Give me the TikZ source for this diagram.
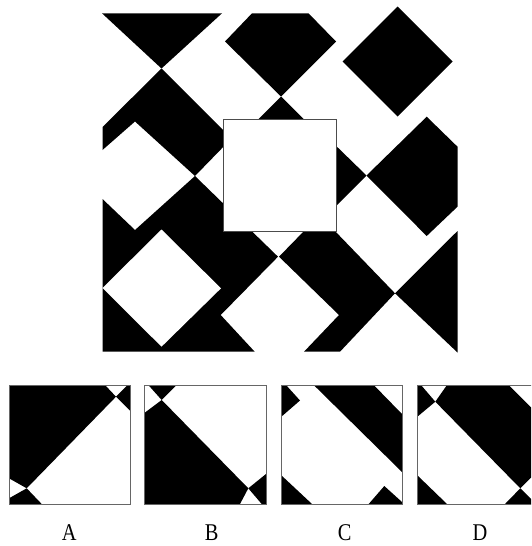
\documentclass[tikz,border=0pt]{standalone}
\usepackage{fontspec}
\newfontfamily\optfont[FakeStretch=0.85]{Liberation Serif}
\definecolor{framegray}{HTML}{666666}
\begin{document}
\begin{tikzpicture}[x=1pt,y=-1pt,piece/.style={fill=black},frame/.style={draw=framegray,line width=1pt},
  optlabel/.style={font=\optfont\fontsize{24}{24}\selectfont,anchor=base,inner sep=0pt}]
\useasboundingbox (0,0) rectangle (531,546);
\clip (0,0) rectangle (531,546);
% main grid
\fill[piece] (102,13.3) -- (222,13.3) -- (161.5,68.5) -- cycle;
\fill[piece] (252,13.3) -- (308.5,13.3) -- (336,41.5) -- (281,96.5) -- (225,41.5) -- cycle;
\fill[piece] (397.5,6.5) -- (452.5,61.5) -- (397.5,116.5) -- (342.5,61.5) -- cycle;
\fill[piece] (281,96.5) -- (256.5,121) -- (305.5,121) -- cycle;
\fill[piece] (161.5,68.5) -- (230,137) -- (230,140) -- (195,176) -- (135,121.5) -- (102.5,150) -- (102.5,127) -- cycle;
\fill[piece] (329,139) -- (366.5,175.5) -- (329,213) -- cycle;
\fill[piece] (366.5,175.5) -- (426.7,116.7) -- (457.5,146.7) -- (457.5,206.7) -- (426.7,236) -- cycle;
\fill[piece] (195,176) -- (278,256.7) -- (220.7,315) -- (254.7,351.7) -- (102.5,351.7) -- (102.5,199) -- (135,230) -- cycle;
\fill[white] (161.5,229.5) -- (221,288.3) -- (161.5,346.7) -- (102.5,288) -- cycle;
\fill[piece] (279,256.7) -- (306,229) -- (333,229) -- (395,293.3) -- (340,351.7) -- (304,351.7) -- (339,315) -- cycle;
\fill[piece] (395,293.3) -- (457.5,231) -- (457.5,352.5) -- cycle;
\draw[draw=black!70,line width=0.8pt,fill=white] (223,119) rectangle (336.3,231.7);
% option A
\fill[piece] (9,385) -- (105,385) -- (116,396.7) -- (26.7,488.3) -- (9,478.3) -- cycle;
\fill[piece] (116,396.7) -- (127.7,385) -- (130,385) -- (130,410.7) -- cycle;
\fill[piece] (26.7,488.3) -- (9,498.3) -- (9,504) -- (41.7,504) -- cycle;
% option B
\fill[piece] (148.3,385) -- (176.7,385) -- (161.7,400) -- cycle;
\fill[piece] (161.7,400) -- (144,413.3) -- (144,504) -- (240,504) -- (248.3,488.3) -- cycle;
\fill[piece] (248.3,488.3) -- (266,474) -- (266,504) -- (261.7,504) -- cycle;
% option C
\fill[piece] (281,385) -- (286,385) -- (300,400.5) -- (281,417) -- cycle;
\fill[piece] (313.7,385) -- (373.7,385) -- (402,414) -- (402,472) -- cycle;
\fill[piece] (281,475) -- (281,504) -- (312,504) -- cycle;
\fill[piece] (368.7,504) -- (384.3,486) -- (402,502) -- (402,504) -- cycle;
% option D
\fill[piece] (417,385) -- (421,385) -- (435.3,401.7) -- (417,417) -- cycle;
\fill[piece] (435.3,401.7) -- (447,385) -- (508.7,385) -- (537.5,414) -- (537.5,471) -- (520.3,488.3) -- cycle;
\fill[piece] (520.3,488.3) -- (505,504) -- (536,504) -- cycle;
\fill[piece] (417,475) -- (417,504) -- (447,504) -- cycle;
\foreach \x/\w in {9/121,144/122,281/121,417/120.5}{\draw[frame] (\x,385) rectangle ++(\w,119);}
\foreach \l/\x in {A/69.2,B/211.7,C/344.7,D/480}{\node[optlabel] (lab\l) at (\x,540.5) {\l};}
\end{tikzpicture}
\end{document}
